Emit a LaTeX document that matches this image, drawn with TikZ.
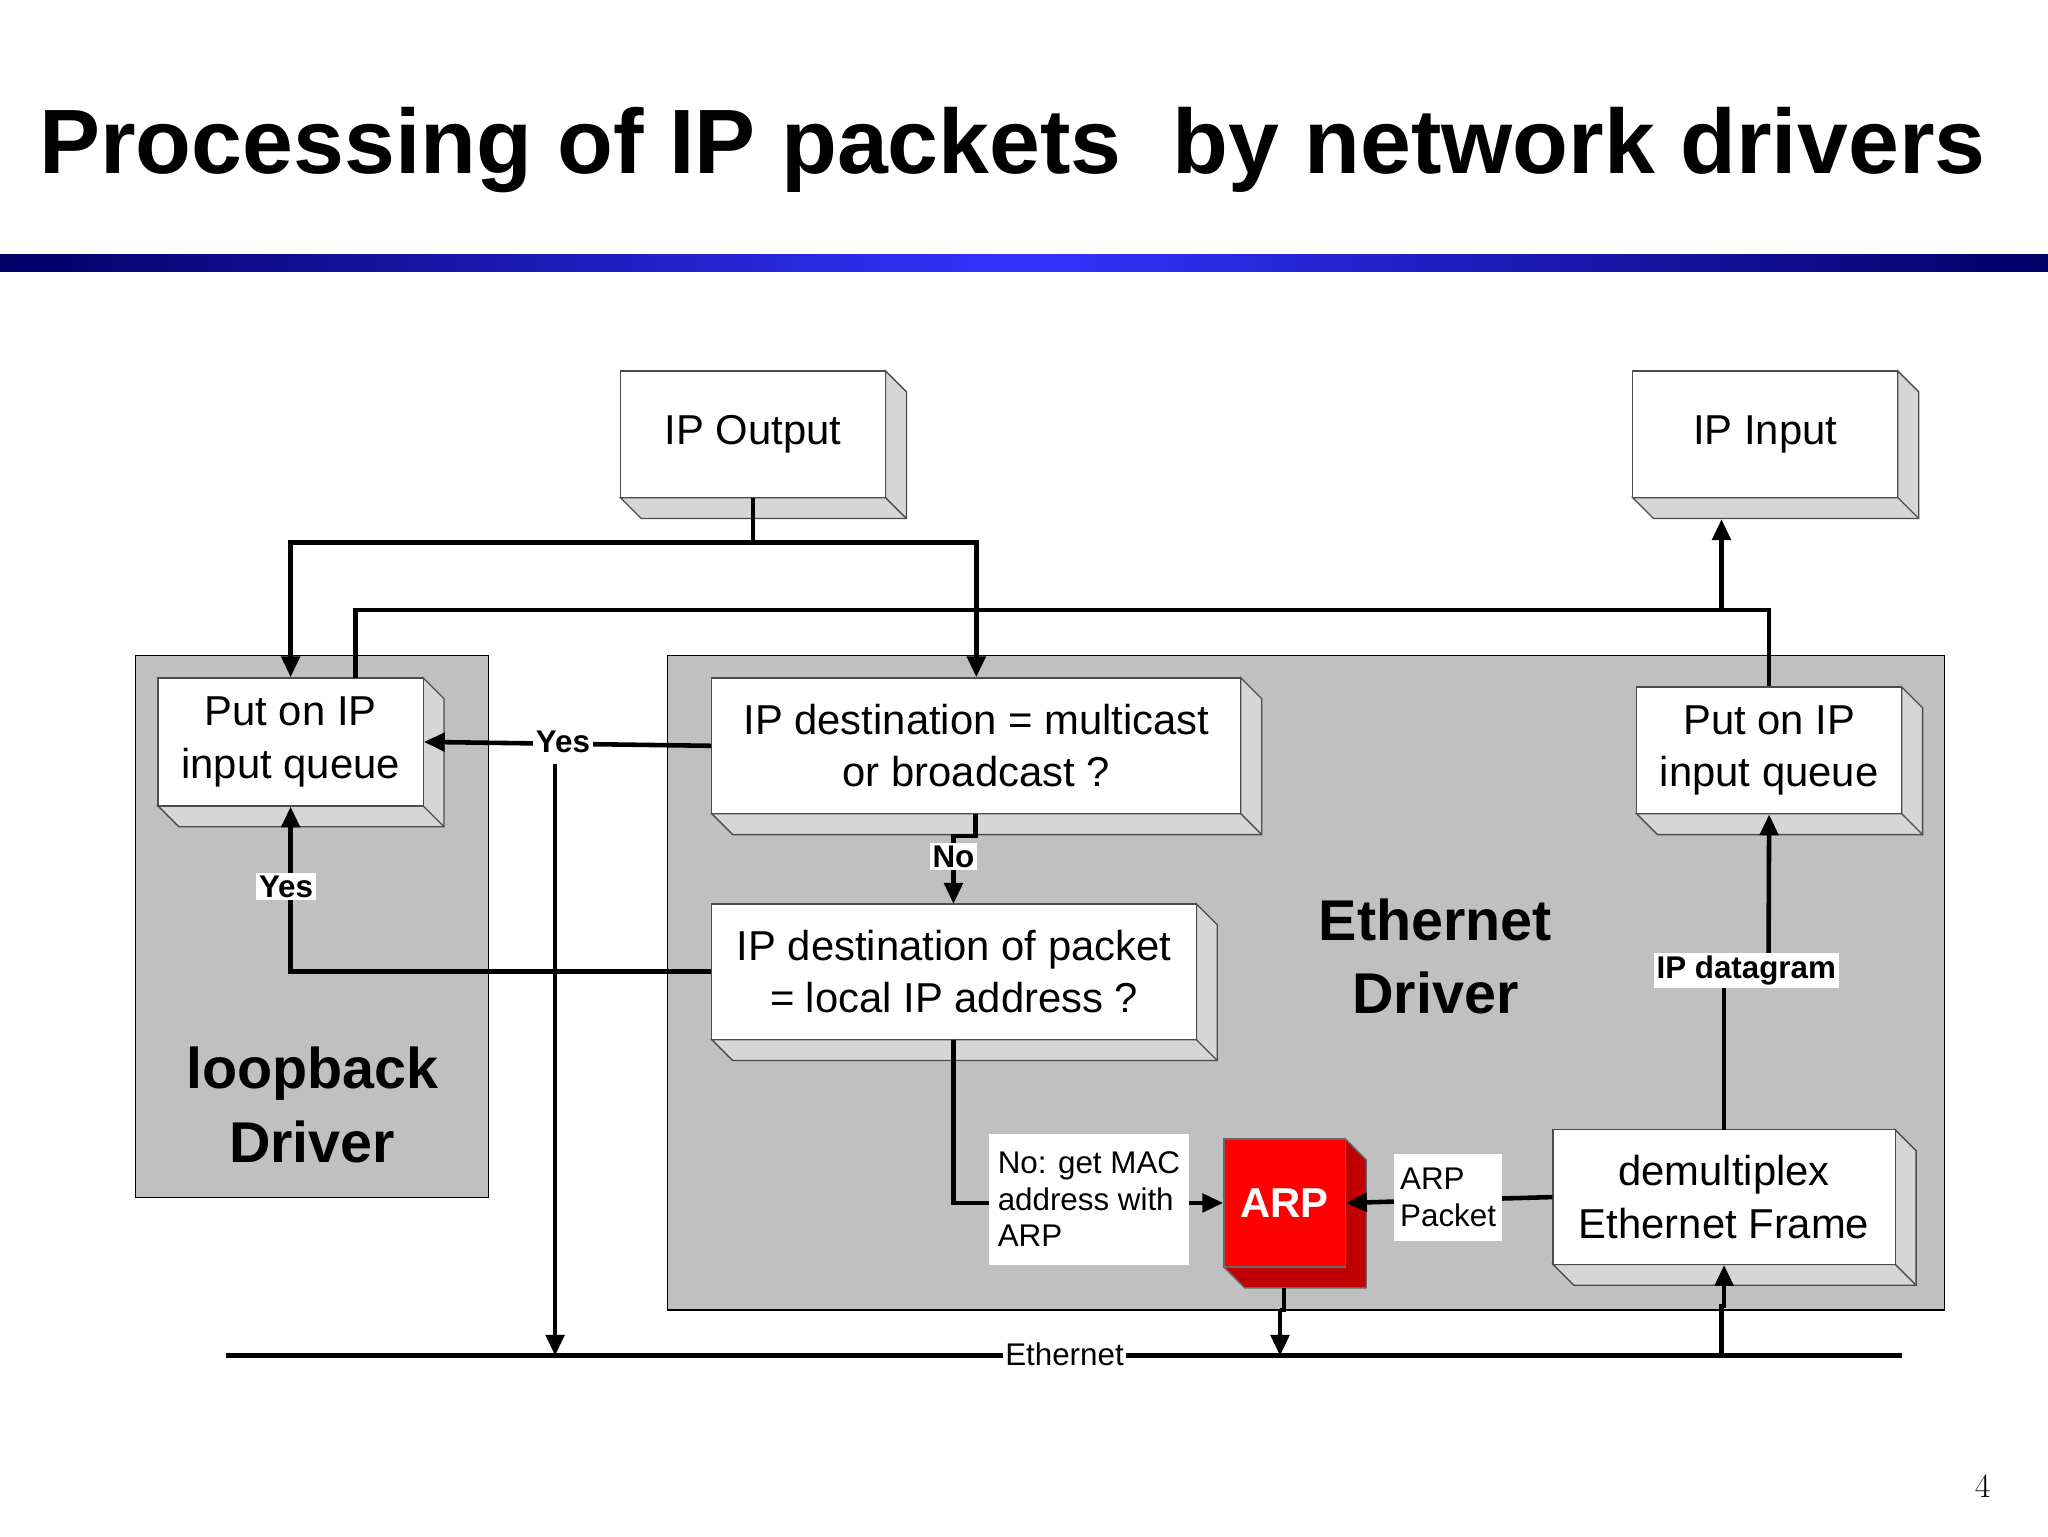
\documentclass[tikz,border=0pt]{standalone}
\usepackage{fontspec}
\setmainfont{Liberation Sans}
\usetikzlibrary{arrows.meta,calc}
\definecolor{panel}{HTML}{C0C0C0}
\definecolor{side}{HTML}{D6D6D6}
\tikzset{
  face/.style={draw=black!70,line width=1pt,fill=white,inner sep=0pt,align=center,font=\fontsize{32}{40}\selectfont},
  ln/.style={line width=3.5pt},
  arr/.style={line width=3.5pt,-{Triangle[length=16pt,width=14pt]}},
  lab/.style={fill=white,inner sep=2pt,font=\fontsize{24}{28}\selectfont},
}
% name x1 y1 x2 y2 text
\newcommand\tdbox[6]{%
  \filldraw[fill=side,draw=black!70,line width=1pt] (#2,#5)--(#4,#5)--(#4,#3)--({#4+16},{#3+16})--({#4+16},{#5+16})--({#2+16},{#5+16})--cycle;
  \draw[black!70,line width=1pt] (#4,#5)--({#4+16},{#5+16});
  \node[face,minimum width={(#4-#2)*1pt},minimum height={(#5-#3)*1pt}] (#1) at ({(#2+#4)/2},{(#3+#5)/2}) {#6};
}
\begin{document}
\begin{tikzpicture}[x=1pt,y=-1pt]
\useasboundingbox (0,0) rectangle (1568,1176);
\fill[white] (0,0) rectangle (1568,1176);
% title
\node[anchor=base west,inner sep=0pt,font=\bfseries\fontsize{70}{80}\selectfont] (title) at (30,133) {Processing of IP packets\ \ by network drivers};
\shade[left color=blue!40!black, right color=blue!40!black, middle color=blue!80!white] (0,195) rectangle (1568,208);
% panels
\filldraw[fill=panel,draw=black,line width=1pt] (104,502) rectangle (374,917);
\filldraw[fill=panel,draw=black,line width=1pt] (511,502) rectangle (1489,1003);
\node[align=center,font=\bfseries\fontsize{44}{56}\selectfont] (lbl) at (239,846) {loopback\\Driver};
\node[align=center,font=\bfseries\fontsize{44}{56}\selectfont] (edl) at (1099,732) {Ethernet\\Driver};
% boxes
\tdbox{ipout}{475}{284}{678}{381}{IP Output}
\tdbox{ipin}{1250}{284}{1453}{381}{IP Input}
\tdbox{lput}{121}{519}{324}{617}{Put on IP\\input queue}
\tdbox{mc}{545}{519}{950}{623}{IP destination = multicast\\or broadcast ?}
\tdbox{loc}{545}{692}{916}{796}{IP destination of packet\\= local IP address ?}
\tdbox{rput}{1253}{526}{1456}{623}{Put on IP\\input queue}
\tdbox{dmx}{1189}{865}{1451}{968}{demultiplex\\Ethernet Frame}
% ARP red box
\filldraw[fill=red!75!black,draw=black!60,line width=1pt] (937,970)--(1030,970)--(1030,872)--(1046,888)--(1046,986)--(953,986)--cycle;
\node[draw=black!60,line width=1pt,fill=red,minimum width=93pt,minimum height=98pt,inner sep=0pt,text=white,font=\bfseries\fontsize{32}{38}\selectfont] (arp) at (983.5,921) {ARP};
% Ethernet bus
\coordinate (eL) at (173,1038);
\coordinate (eR) at (1456,1038);
\draw[ln] (eL) -- (eR);
\node[lab] (eth) at (815,1037) {Ethernet};
% connectors
\draw[arr] (ipout.south) -- ++(0,34) -| (lput.north);
\draw[arr] (ipout.south) -- ++(0,34) -| (mc.north);
\coordinate (lp2) at (272,519);
\coordinate (jin) at (1318,467);
\draw[ln] (lp2) -- (272,467) -| (rput.north);
\draw[arr] (jin) -- ($(jin |- ipin.south)+(0,16)$);
\draw[arr] (mc.west |- 0,571) -- (lput.east |- 0,568);
\node[lab,font=\bfseries\fontsize{24}{28}\selectfont] (yes1) at (431,568) {Yes};
\draw[arr] (425,585) -- (425,1038);
\draw[arr] (747,623) -- (747,640) -| (730,692);
\node[lab,font=\bfseries\fontsize{24}{28}\selectfont] (no1) at (730,656) {No};
\draw[arr] (loc.west |- 0,744) -| (lput.south);
\node[lab,font=\bfseries\fontsize{24}{28}\selectfont] (yes2) at (219,679) {Yes};
\draw[arr] (730,796) |- (arp.west);
\node[lab,align=left,anchor=north west,minimum width=153pt,minimum height=100pt,text depth=0pt] (nomac) at (757,868) {No: get MAC\\address with\\ARP};
\draw[arr] (dmx.west) -- (arp.east);
\node[lab,align=left,anchor=north west,minimum width=83pt,minimum height=67pt] (arpp) at (1067,883) {ARP\\Packet};
\draw[ln] (983,986) -- (983,1003) -- (980,1003);
\draw[arr] (980,1003) -- (980,1038);
\draw[ln] (1320,865) -- (1320,740);
\draw[arr] (1354,740) -- (rput.south);
\node[lab,font=\bfseries\fontsize{24}{28}\selectfont] (ipd) at (1337,743) {IP datagram};
\draw[arr] (1318,1038) -- (1318,1000) -- (1320,1000) -- (dmx.south);
\node[font=\fontfamily{lmr}\fontsize{26}{30}\selectfont] (pg) at (1518,1138) {4};
\end{tikzpicture}
\end{document}
